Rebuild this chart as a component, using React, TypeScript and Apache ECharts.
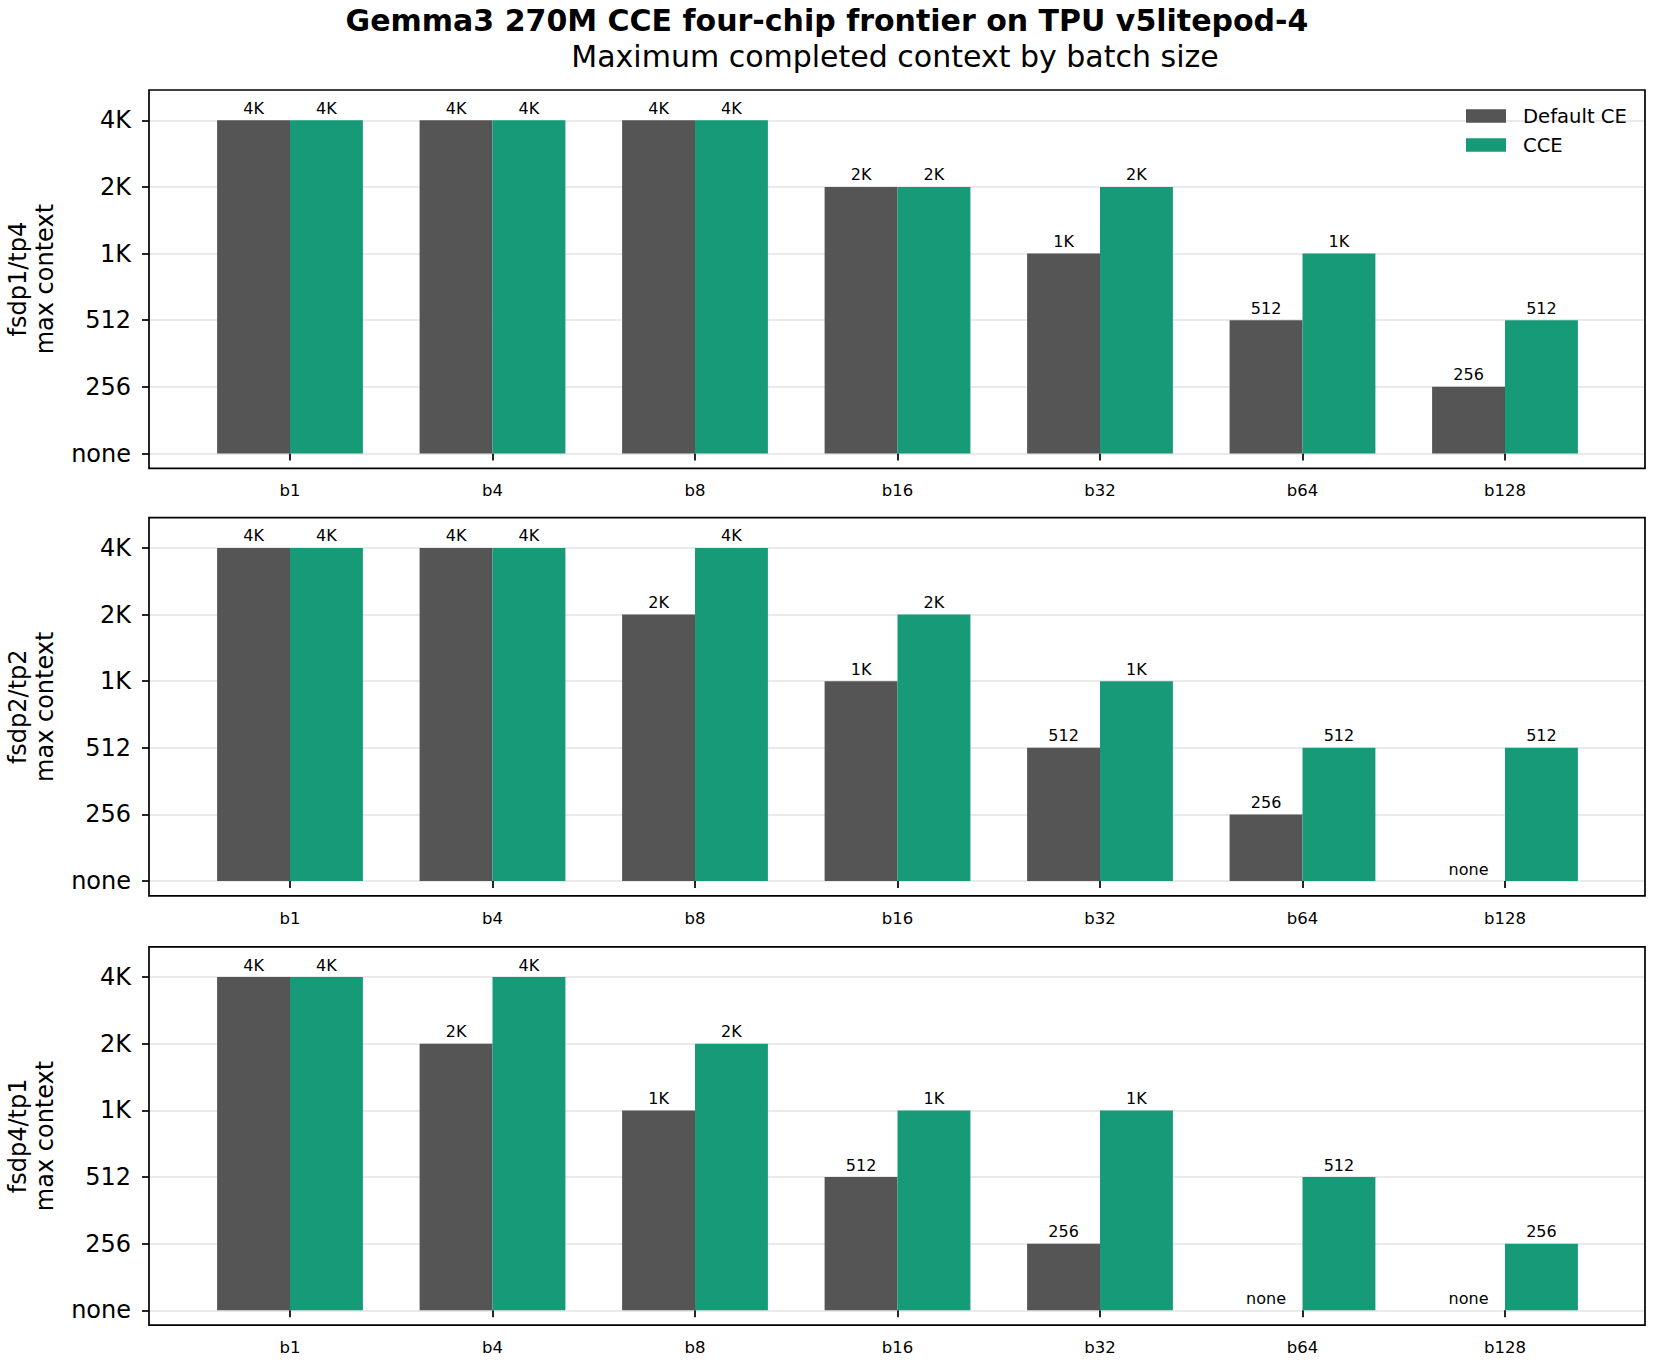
import React, { useEffect, useRef } from "react";
import * as echarts from "echarts";

const categories = ["b1", "b4", "b8", "b16", "b32", "b64", "b128"];
const levels = ["none", "256", "512", "1K", "2K", "4K"];
const panelNames = ["fsdp1/tp4", "fsdp2/tp2", "fsdp4/tp1"];
const seriesNames = ["Default CE", "CCE"];

const defaultCE_fsdp1tp4 = ["4K", "4K", "4K", "2K", "1K", "512", "256"];
const cce_fsdp1tp4 = ["4K", "4K", "4K", "2K", "2K", "1K", "512"];
const defaultCE_fsdp2tp2 = ["4K", "4K", "2K", "1K", "512", "256", "none"];
const cce_fsdp2tp2 = ["4K", "4K", "4K", "2K", "1K", "512", "512"];
const defaultCE_fsdp4tp1 = ["4K", "2K", "1K", "512", "256", "none", "none"];
const cce_fsdp4tp1 = ["4K", "4K", "2K", "1K", "1K", "512", "256"];

const panelData = [
  [defaultCE_fsdp1tp4, cce_fsdp1tp4],
  [defaultCE_fsdp2tp2, cce_fsdp2tp2],
  [defaultCE_fsdp4tp1, cce_fsdp4tp1],
];

const FONT = "DejaVu Sans";
const COLORS = ["#555555", "#169a78"];

export default function App() {
  const ref = useRef<HTMLDivElement>(null);
  useEffect(() => {
    document.body.style.margin = "0";
    if (!ref.current) return;
    const chart = echarts.init(ref.current, undefined, { renderer: "svg" });

    const panelTops = [90, 517.6, 946.8];
    const frameLeft = 149;
    const frameWidth = 1496;
    const frameHeight = 378.3;
    const dataTopPad = 30.3;
    const dataHeight = 333.2;
    const unit = 202.5;
    const firstCenter = 290;
    const bLeft = firstCenter - unit / 2;
    const bWidth = unit * categories.length;

    const grids: any[] = [];
    const xAxes: any[] = [];
    const yAxes: any[] = [];
    const series: any[] = [];
    const graphics: any[] = [];

    panelTops.forEach((top, i) => {
      grids.push({ left: frameLeft, width: frameWidth, top: top + dataTopPad, height: dataHeight });
      grids.push({ left: bLeft, width: bWidth, top: top + dataTopPad, height: dataHeight });
      xAxes.push({ type: "value", gridIndex: 2 * i, min: 0, max: 1, show: false });
      xAxes.push({
        type: "category",
        gridIndex: 2 * i + 1,
        data: categories,
        offset: frameHeight - dataTopPad - dataHeight,
        axisLine: { show: false },
        axisTick: { show: true, alignWithLabel: true, length: 7, lineStyle: { color: "#000", width: 1.7 } },
        axisLabel: { fontFamily: FONT, fontSize: 16.5, color: "#000", margin: 14 },
      });
      yAxes.push({
        type: "value",
        gridIndex: 2 * i,
        min: 0,
        max: 5,
        interval: 1,
        axisLine: { show: false },
        axisTick: { show: true, length: 7, lineStyle: { color: "#000", width: 1.7 } },
        axisLabel: {
          fontFamily: FONT,
          fontSize: 24,
          color: "#000",
          margin: 18,
          formatter: (v: number) => levels[Math.round(v)] ?? "",
        },
        splitLine: { show: true, lineStyle: { color: "#e3e3e3", width: 1.5 } },
      });
      yAxes.push({ type: "value", gridIndex: 2 * i + 1, min: 0, max: 5, show: false });

      panelData[i].forEach((arr, s) => {
        series.push({
          type: "bar",
          name: seriesNames[s],
          xAxisIndex: 2 * i + 1,
          yAxisIndex: 2 * i + 1,
          data: arr.map((l) => levels.indexOf(l)),
          barWidth: "36%",
          barGap: "0%",
          itemStyle: { color: COLORS[s] },
          label: {
            show: true,
            position: "top",
            distance: 4,
            fontFamily: FONT,
            fontSize: 16,
            color: "#000",
            formatter: (p: any) => levels[p.value],
          },
        });
      });

      graphics.push({
        type: "rect",
        z: 100,
        shape: { x: frameLeft, y: top, width: frameWidth, height: frameHeight },
        style: { fill: "none", stroke: "#000", lineWidth: 1.7 },
      });
      graphics.push({
        type: "text",
        x: 31,
        y: top + frameHeight / 2,
        rotation: Math.PI / 2,
        style: {
          text: panelNames[i] + "\nmax context",
          fontFamily: FONT,
          fontSize: 24,
          lineHeight: 27,
          fill: "#000",
          textAlign: "center",
          textVerticalAlign: "middle",
        },
      });
    });

    chart.setOption({
      animation: false,
      backgroundColor: "#fff",
      title: [
        {
          text: "Gemma3 270M CCE four-chip frontier on TPU v5litepod-4",
          left: 827,
          top: 5,
          padding: 0,
          textAlign: "center",
          textStyle: { fontFamily: FONT, fontSize: 30, fontWeight: "bold", color: "#000" },
        },
        {
          text: "Maximum completed context by batch size",
          left: 895,
          top: 41,
          padding: 0,
          textAlign: "center",
          textStyle: { fontFamily: FONT, fontSize: 30, fontWeight: "normal", color: "#000" },
        },
      ],
      legend: {
        data: seriesNames,
        orient: "vertical",
        left: 1461,
        top: 101,
        icon: "rect",
        itemWidth: 40,
        itemHeight: 13.4,
        itemGap: 9,
        selectedMode: false,
        textStyle: { fontFamily: FONT, fontSize: 19.6, color: "#000", lineHeight: 20, padding: [0, 0, 0, 12] },
      },
      grid: grids,
      xAxis: xAxes,
      yAxis: yAxes,
      series,
      graphic: graphics,
    });
    return () => chart.dispose();
  }, []);
  return <div ref={ref} style={{ width: 1654, height: 1368 }} />;
}
